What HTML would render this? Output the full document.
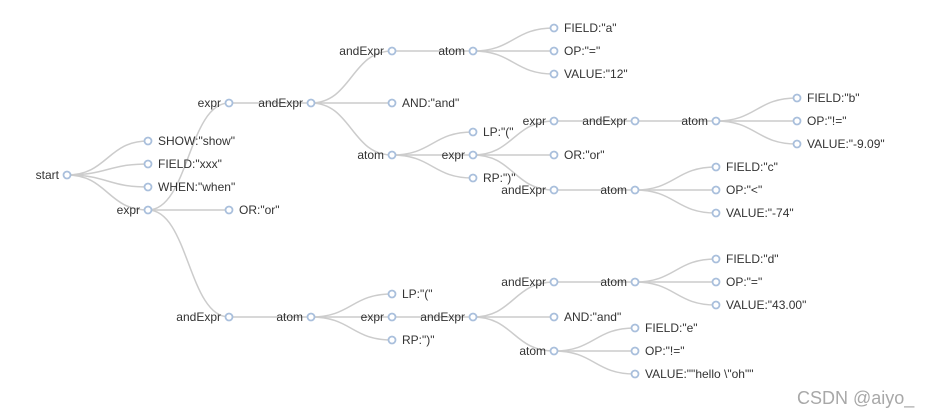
<!DOCTYPE html>
<html><head><meta charset="utf-8"><style>
html,body{margin:0;padding:0;background:#fff;width:929px;height:417px;overflow:hidden}
svg{display:block}
path{fill:none;stroke:#ccc;stroke-width:1.5}
circle{fill:#fff;stroke:#a9bfdc;stroke-width:1.8}
text{font-family:"Liberation Sans",sans-serif;font-size:12px;fill:#333}
.e{text-anchor:end}
</style></head><body>
<svg width="929" height="417" xmlns="http://www.w3.org/2000/svg">
<g>
<path d="M67,175C107.5,175 107.5,141 148,141"/>
<path d="M67,175C107.5,175 107.5,164 148,164"/>
<path d="M67,175C107.5,175 107.5,187 148,187"/>
<path d="M67,175C107.5,175 107.5,210 148,210"/>
<path d="M148,210C188.5,210 188.5,103 229,103"/>
<path d="M148,210L229,210"/>
<path d="M148,210C188.5,210 188.5,317 229,317"/>
<path d="M229,103L311,103"/>
<path d="M229,317L311,317"/>
<path d="M311,103C351.5,103 351.5,51 392,51"/>
<path d="M311,103L392,103"/>
<path d="M311,103C351.5,103 351.5,155 392,155"/>
<path d="M311,317C351.5,317 351.5,294 392,294"/>
<path d="M311,317L392,317"/>
<path d="M311,317C351.5,317 351.5,340 392,340"/>
<path d="M392,51L473,51"/>
<path d="M392,155C432.5,155 432.5,132 473,132"/>
<path d="M392,155L473,155"/>
<path d="M392,155C432.5,155 432.5,178 473,178"/>
<path d="M392,317L473,317"/>
<path d="M473,51C513.5,51 513.5,28 554,28"/>
<path d="M473,51L554,51"/>
<path d="M473,51C513.5,51 513.5,74 554,74"/>
<path d="M473,155C513.5,155 513.5,121 554,121"/>
<path d="M473,155L554,155"/>
<path d="M473,155C513.5,155 513.5,190 554,190"/>
<path d="M473,317C513.5,317 513.5,282 554,282"/>
<path d="M473,317L554,317"/>
<path d="M473,317C513.5,317 513.5,351 554,351"/>
<path d="M554,121L635,121"/>
<path d="M554,190L635,190"/>
<path d="M554,282L635,282"/>
<path d="M554,351C594.5,351 594.5,328 635,328"/>
<path d="M554,351L635,351"/>
<path d="M554,351C594.5,351 594.5,374 635,374"/>
<path d="M635,121L716,121"/>
<path d="M635,190C675.5,190 675.5,167 716,167"/>
<path d="M635,190L716,190"/>
<path d="M635,190C675.5,190 675.5,213 716,213"/>
<path d="M635,282C675.5,282 675.5,259 716,259"/>
<path d="M635,282L716,282"/>
<path d="M635,282C675.5,282 675.5,305 716,305"/>
<path d="M716,121C756.5,121 756.5,98 797,98"/>
<path d="M716,121L797,121"/>
<path d="M716,121C756.5,121 756.5,144 797,144"/>
</g>
<g>
<circle cx="67" cy="175" r="3.5"/><text class="e" x="59" y="179">start</text>
<circle cx="148" cy="141" r="3.5"/><text x="158" y="145">SHOW:"show"</text>
<circle cx="148" cy="164" r="3.5"/><text x="158" y="168">FIELD:"xxx"</text>
<circle cx="148" cy="187" r="3.5"/><text x="158" y="191">WHEN:"when"</text>
<circle cx="148" cy="210" r="3.5"/><text class="e" x="140" y="214">expr</text>
<circle cx="229" cy="103" r="3.5"/><text class="e" x="221" y="107">expr</text>
<circle cx="229" cy="210" r="3.5"/><text x="239" y="214">OR:"or"</text>
<circle cx="229" cy="317" r="3.5"/><text class="e" x="221" y="321">andExpr</text>
<circle cx="311" cy="103" r="3.5"/><text class="e" x="303" y="107">andExpr</text>
<circle cx="311" cy="317" r="3.5"/><text class="e" x="303" y="321">atom</text>
<circle cx="392" cy="51" r="3.5"/><text class="e" x="384" y="55">andExpr</text>
<circle cx="392" cy="103" r="3.5"/><text x="402" y="107">AND:"and"</text>
<circle cx="392" cy="155" r="3.5"/><text class="e" x="384" y="159">atom</text>
<circle cx="392" cy="294" r="3.5"/><text x="402" y="298">LP:"("</text>
<circle cx="392" cy="317" r="3.5"/><text class="e" x="384" y="321">expr</text>
<circle cx="392" cy="340" r="3.5"/><text x="402" y="344">RP:")"</text>
<circle cx="473" cy="51" r="3.5"/><text class="e" x="465" y="55">atom</text>
<circle cx="473" cy="132" r="3.5"/><text x="483" y="136">LP:"("</text>
<circle cx="473" cy="155" r="3.5"/><text class="e" x="465" y="159">expr</text>
<circle cx="473" cy="178" r="3.5"/><text x="483" y="182">RP:")"</text>
<circle cx="473" cy="317" r="3.5"/><text class="e" x="465" y="321">andExpr</text>
<circle cx="554" cy="28" r="3.5"/><text x="564" y="32">FIELD:"a"</text>
<circle cx="554" cy="51" r="3.5"/><text x="564" y="55">OP:"="</text>
<circle cx="554" cy="74" r="3.5"/><text x="564" y="78">VALUE:"12"</text>
<circle cx="554" cy="121" r="3.5"/><text class="e" x="546" y="125">expr</text>
<circle cx="554" cy="155" r="3.5"/><text x="564" y="159">OR:"or"</text>
<circle cx="554" cy="190" r="3.5"/><text class="e" x="546" y="194">andExpr</text>
<circle cx="554" cy="282" r="3.5"/><text class="e" x="546" y="286">andExpr</text>
<circle cx="554" cy="317" r="3.5"/><text x="564" y="321">AND:"and"</text>
<circle cx="554" cy="351" r="3.5"/><text class="e" x="546" y="355">atom</text>
<circle cx="635" cy="121" r="3.5"/><text class="e" x="627" y="125">andExpr</text>
<circle cx="635" cy="190" r="3.5"/><text class="e" x="627" y="194">atom</text>
<circle cx="635" cy="282" r="3.5"/><text class="e" x="627" y="286">atom</text>
<circle cx="635" cy="328" r="3.5"/><text x="645" y="332">FIELD:"e"</text>
<circle cx="635" cy="351" r="3.5"/><text x="645" y="355">OP:"!="</text>
<circle cx="635" cy="374" r="3.5"/><text x="645" y="378">VALUE:""hello \"oh""</text>
<circle cx="716" cy="121" r="3.5"/><text class="e" x="708" y="125">atom</text>
<circle cx="716" cy="167" r="3.5"/><text x="726" y="171">FIELD:"c"</text>
<circle cx="716" cy="190" r="3.5"/><text x="726" y="194">OP:"&lt;"</text>
<circle cx="716" cy="213" r="3.5"/><text x="726" y="217">VALUE:"-74"</text>
<circle cx="716" cy="259" r="3.5"/><text x="726" y="263">FIELD:"d"</text>
<circle cx="716" cy="282" r="3.5"/><text x="726" y="286">OP:"="</text>
<circle cx="716" cy="305" r="3.5"/><text x="726" y="309">VALUE:"43.00"</text>
<circle cx="797" cy="98" r="3.5"/><text x="807" y="102">FIELD:"b"</text>
<circle cx="797" cy="121" r="3.5"/><text x="807" y="125">OP:"!="</text>
<circle cx="797" cy="144" r="3.5"/><text x="807" y="148">VALUE:"-9.09"</text>
</g>
<text x="797" y="404" style="font-size:18px;fill:#a8a8a8">CSDN @aiyo_</text>
</svg>
</body></html>
